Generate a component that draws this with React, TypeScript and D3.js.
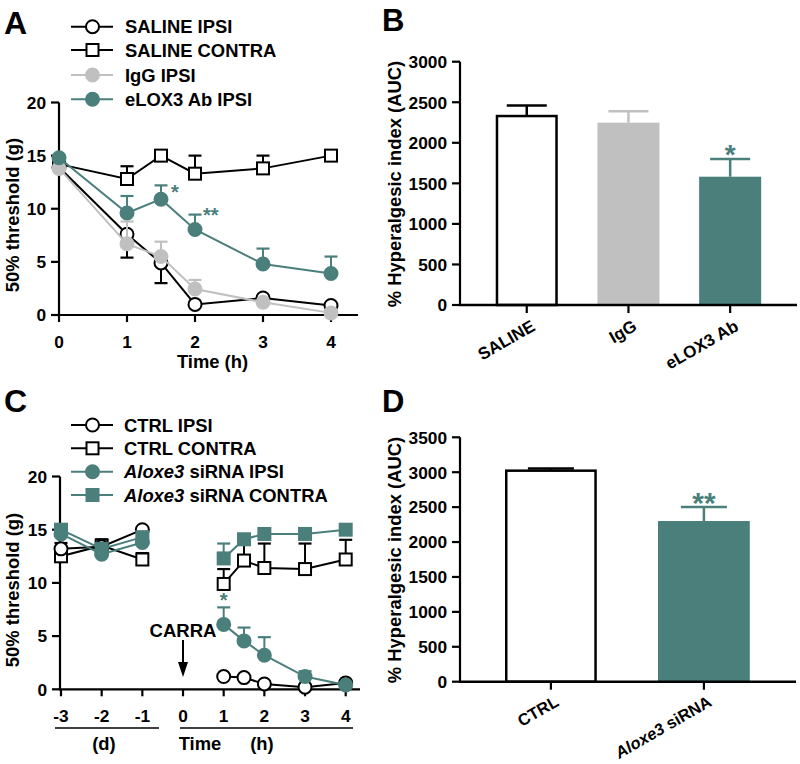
import React from 'react';
import * as d3 from 'd3';

const TEAL = '#4a7f7c';
const GRAY = '#c0c0c0';
const BLACK = '#000';
const FONT = 'Arial, "Liberation Sans", Helvetica, sans-serif';

// ---------- Panel A data ----------
const timesA = [0, 1, 1.5, 2, 3, 4];
const ticksA = [0, 1, 2, 3, 4];
const salineIpsi = [13.9, 7.6, 4.9, 1.0, 1.6, 0.9];
const salineIpsiErr = [0, 2.2, 1.9, 0, 0, 0]; // drawn downward
const salineContra = [14.2, 12.8, 15.0, 13.3, 13.8, 15.0];
const salineContraErr = [0, 1.2, 0, 1.7, 1.2, 0];
const iggIpsi = [13.8, 6.7, 5.5, 2.45, 1.2, 0.2];
const iggIpsiErr = [0, 2.1, 1.4, 0.85, 0, 0];
const elox3Ipsi = [14.8, 9.6, 10.9, 8.05, 4.8, 3.9];
const elox3IpsiErr = [0, 1.6, 1.3, 1.4, 1.45, 1.6];
const yTicksLine = [0, 5, 10, 15, 20];

// ---------- Panel B data ----------
const catsB = ['SALINE', 'IgG', 'eLOX3 Ab'];
const valsB = [2330, 2248, 1582];
const errsB = [130, 142, 218];
const yTicksB = [0, 500, 1000, 1500, 2000, 2500, 3000];

// ---------- Panel C data ----------
const timesC = [-3, -2, -1, 1, 1.5, 2, 3, 4];
const ticksC = [-3, -2, -1, 0, 1, 2, 3, 4];
const ctrlIpsi = [13.2, 13.4, 15.0, 1.2, 1.1, 0.5, 0.2, 0.6];
const ctrlIpsiErr = [0, 0, 0, 0, 0, 0, 0, 0];
const ctrlContra = [12.5, 13.5, 12.2, 9.9, 12.1, 11.4, 11.3, 12.2];
const ctrlContraErr = [1.25, 0.6, 0.6, 1.4, 2.0, 2.3, 2.4, 1.85];
const aloxIpsi = [14.6, 12.7, 13.8, 6.1, 4.55, 3.2, 1.2, 0.4];
const aloxIpsiErr = [0, 0, 0, 1.6, 1.25, 1.7, 0.5, 0];
const aloxContra = [15.0, 13.2, 14.3, 12.3, 14.1, 14.6, 14.6, 15.0];
const aloxContraErr = [0, 0, 0, 1.4, 0, 0, 0, 0];

// ---------- Panel D data ----------
const catsD = ['CTRL', 'Aloxe3 siRNA'];
const valsD = [3022, 2301];
const errsD = [30, 200];
const yTicksD = [0, 500, 1000, 1500, 2000, 2500, 3000, 3500];

type Marker = 'circle' | 'square';

function MarkerShape({ x, y, type, fill, stroke }: { x: number; y: number; type: Marker; fill: string; stroke: string }) {
  if (type === 'circle') return <circle cx={x} cy={y} r={6.5} fill={fill} stroke={stroke} strokeWidth={2} />;
  return <rect x={x - 6} y={y - 6} width={12} height={12} fill={fill} stroke={stroke} strokeWidth={2} />;
}

type Series = {
  vals: number[];
  errs: number[];
  dir: 1 | -1;
  color: string;
  fill: string;
  marker: Marker;
};

function SeriesG({ s, times, x, y, split }: { s: Series; times: number[]; x: d3.ScaleLinear<number, number>; y: d3.ScaleLinear<number, number>; split?: boolean }) {
  const pts = times.map((t, i) => [t, s.vals[i]] as [number, number]);
  const line = d3.line<[number, number]>().x(d => x(d[0])).y(d => y(d[1]));
  const segs = split ? [pts.filter(p => p[0] < 0), pts.filter(p => p[0] > 0)] : [pts];
  return (
    <g>
      {segs.map((seg, k) => (
        <path key={k} d={line(seg) || ''} fill="none" stroke={s.color} strokeWidth={2} />
      ))}
      {pts.map((p, i) => {
        const e = s.errs[i];
        if (!e) return null;
        const y0 = y(p[1]);
        const y1 = y(p[1] + s.dir * e);
        const cx = x(p[0]);
        return (
          <g key={'e' + i}>
            <line x1={cx} x2={cx} y1={y0} y2={y1} stroke={s.color} strokeWidth={2} />
            <line x1={cx - 6.5} x2={cx + 6.5} y1={y1} y2={y1} stroke={s.color} strokeWidth={2.2} />
          </g>
        );
      })}
      {pts.map((p, i) => (
        <MarkerShape key={'m' + i} x={x(p[0])} y={y(p[1])} type={s.marker} fill={s.fill} stroke={s.color} />
      ))}
    </g>
  );
}

function Legend({ items, x0, ys, textX }: { items: { label: React.ReactNode; color: string; fill: string; marker: Marker }[]; x0: number; ys: number[]; textX: number }) {
  return (
    <g>
      {items.map((it, i) => (
        <g key={i}>
          <line x1={x0} x2={x0 + 42} y1={ys[i]} y2={ys[i]} stroke={it.color} strokeWidth={2} />
          <MarkerShape x={x0 + 21.5} y={ys[i]} type={it.marker} fill={it.fill} stroke={it.color} />
          <text x={textX} y={ys[i] + 6.5} fontSize={18.4} fontWeight="bold" fontFamily={FONT}>{it.label}</text>
        </g>
      ))}
    </g>
  );
}

function YAxis({ y, ticks, x0, fmt }: { y: d3.ScaleLinear<number, number>; ticks: number[]; x0: number; fmt?: (v: number) => string }) {
  const [d0, d1] = y.domain();
  return (
    <g>
      <line x1={x0} x2={x0} y1={y(d1)} y2={y(d0) + 1} stroke={BLACK} strokeWidth={2.2} />
      {ticks.map(t => (
        <g key={t}>
          <line x1={x0 - 8} x2={x0} y1={y(t)} y2={y(t)} stroke={BLACK} strokeWidth={2.2} />
          <text x={x0 - 13} y={y(t) + 6.3} textAnchor="end" fontSize={17.3} fontWeight="bold" fontFamily={FONT}>
            {fmt ? fmt(t) : String(t)}
          </text>
        </g>
      ))}
    </g>
  );
}

export default function App() {
  // Panel A scales
  const xA = d3.scaleLinear().domain([0, 4]).range([59, 331]);
  const yA = d3.scaleLinear().domain([0, 20]).range([315, 102.5]);
  // Panel C scales
  const xC = d3.scaleLinear().domain([-3, 4]).range([61, 345.7]);
  const yC = d3.scaleLinear().domain([0, 20]).range([689.3, 476.5]);
  // Panel B scales
  const xB = d3.scaleBand<string>().domain(catsB).range([475.9, 781]).paddingInner(0.39).paddingOuter(0.195);
  const yB = d3.scaleLinear().domain([0, 3000]).range([305, 61.7]);
  // Panel D scales
  const xD = d3.scaleBand<string>().domain(catsD).range([474.4, 780.4]).paddingInner(0.4).paddingOuter(0.2);
  const yD = d3.scaleLinear().domain([0, 3500]).range([681.7, 437.3]);

  const seriesA: Series[] = [
    { vals: salineContra, errs: salineContraErr, dir: 1, color: BLACK, fill: '#fff', marker: 'square' },
    { vals: salineIpsi, errs: salineIpsiErr, dir: -1, color: BLACK, fill: '#fff', marker: 'circle' },
    { vals: iggIpsi, errs: iggIpsiErr, dir: 1, color: GRAY, fill: GRAY, marker: 'circle' },
    { vals: elox3Ipsi, errs: elox3IpsiErr, dir: 1, color: TEAL, fill: TEAL, marker: 'circle' },
  ];
  const seriesC: Series[] = [
    { vals: ctrlContra, errs: ctrlContraErr, dir: 1, color: BLACK, fill: '#fff', marker: 'square' },
    { vals: ctrlIpsi, errs: ctrlIpsiErr, dir: 1, color: BLACK, fill: '#fff', marker: 'circle' },
    { vals: aloxContra, errs: aloxContraErr, dir: 1, color: TEAL, fill: TEAL, marker: 'square' },
    { vals: aloxIpsi, errs: aloxIpsiErr, dir: 1, color: TEAL, fill: TEAL, marker: 'circle' },
  ];

  const barFillsB = ['#fff', GRAY, TEAL];
  const barStrokesB = [BLACK, 'none', 'none'];
  const errColorsB = [BLACK, GRAY, TEAL];
  const barFillsD = ['#fff', TEAL];
  const barStrokesD = [BLACK, 'none'];
  const errColorsD = [BLACK, TEAL];

  const titleStyle = { fontSize: 18.4, fontWeight: 'bold' as const, fontFamily: FONT };

  return (
    <svg width={800} height={764} style={{ position: 'absolute', left: 0, top: 0, background: '#fff' }} fontFamily={FONT}>
      <rect x={0} y={0} width={800} height={764} fill="#fff" />
      {/* ================= Panel A ================= */}
      <text x={4} y={34} fontSize={32} fontWeight="bold">A</text>
      <Legend
        x0={71}
        textX={125}
        ys={[26.7, 50, 75, 99.3]}
        items={[
          { label: 'SALINE IPSI', color: BLACK, fill: '#fff', marker: 'circle' },
          { label: 'SALINE CONTRA', color: BLACK, fill: '#fff', marker: 'square' },
          { label: 'IgG IPSI', color: GRAY, fill: GRAY, marker: 'circle' },
          { label: 'eLOX3 Ab IPSI', color: TEAL, fill: TEAL, marker: 'circle' },
        ]}
      />
      <YAxis y={yA} ticks={yTicksLine} x0={59} />
      <line x1={58} x2={358} y1={yA(0)} y2={yA(0)} stroke={BLACK} strokeWidth={2.2} />
      {ticksA.map(t => (
        <g key={t}>
          <line x1={xA(t)} x2={xA(t)} y1={yA(0)} y2={yA(0) + 7} stroke={BLACK} strokeWidth={2.2} />
          <text x={xA(t)} y={348} textAnchor="middle" fontSize={17.3} fontWeight="bold">{t}</text>
        </g>
      ))}
      <text x={212.5} y={368} textAnchor="middle" {...titleStyle}>Time (h)</text>
      <text transform={`translate(19,215) rotate(-90)`} textAnchor="middle" {...titleStyle}>50% threshold (g)</text>
      {seriesA.map((s, i) => (
        <SeriesG key={i} s={s} times={timesA} x={xA} y={yA} />
      ))}
      <text x={171} y={199} fontSize={20} fontWeight="bold" fill={TEAL}>*</text>
      <text x={203} y={222} fontSize={20} fontWeight="bold" fill={TEAL}>**</text>

      {/* ================= Panel B ================= */}
      <text x={382} y={31} fontSize={31} fontWeight="bold">B</text>
      {catsB.map((c, i) => {
        const x0 = xB(c)!;
        const bw = xB.bandwidth();
        const cx = x0 + bw / 2;
        return (
          <g key={c}>
            <line x1={cx} x2={cx} y1={yB(valsB[i])} y2={yB(valsB[i] + errsB[i])} stroke={errColorsB[i]} strokeWidth={2.5} />
            <line x1={cx - 20} x2={cx + 20} y1={yB(valsB[i] + errsB[i])} y2={yB(valsB[i] + errsB[i])} stroke={errColorsB[i]} strokeWidth={2.5} />
            <rect
              x={x0 + (barStrokesB[i] !== 'none' ? 1.25 : 0)}
              y={yB(valsB[i])}
              width={bw - (barStrokesB[i] !== 'none' ? 2.5 : 0)}
              height={yB(0) - yB(valsB[i])}
              fill={barFillsB[i]}
              stroke={barStrokesB[i]}
              strokeWidth={2.5}
            />
          </g>
        );
      })}
      <YAxis y={yB} ticks={yTicksB} x0={460} />
      <line x1={459} x2={797} y1={yB(0)} y2={yB(0)} stroke={BLACK} strokeWidth={2.5} />
      {catsB.map(c => {
        const cx = xB(c)! + xB.bandwidth() / 2;
        return (
          <g key={c}>
            <line x1={cx} x2={cx} y1={yB(0)} y2={yB(0) + 8} stroke={BLACK} strokeWidth={2.2} />
            <text transform={`translate(${cx + 9.5},${329.5}) rotate(-30)`} textAnchor="end" fontSize={17} fontWeight="bold">{c}</text>
          </g>
        );
      })}
      <text transform={`translate(401,184) rotate(-90)`} textAnchor="middle" {...titleStyle}>% Hyperalgesic index (AUC)</text>
      <text x={xB('eLOX3 Ab')! + xB.bandwidth() / 2} y={164} textAnchor="middle" fontSize={28} fontWeight="bold" fill={TEAL}>*</text>

      {/* ================= Panel C ================= */}
      <text x={4} y={412} fontSize={32} fontWeight="bold">C</text>
      <Legend
        x0={71}
        textX={124}
        ys={[425, 448.3, 471.7, 495]}
        items={[
          { label: 'CTRL IPSI', color: BLACK, fill: '#fff', marker: 'circle' },
          { label: 'CTRL CONTRA', color: BLACK, fill: '#fff', marker: 'square' },
          { label: <><tspan fontStyle="italic">Aloxe3</tspan><tspan> siRNA IPSI</tspan></>, color: TEAL, fill: TEAL, marker: 'circle' },
          { label: <><tspan fontStyle="italic">Aloxe3</tspan><tspan> siRNA CONTRA</tspan></>, color: TEAL, fill: TEAL, marker: 'square' },
        ]}
      />
      <YAxis y={yC} ticks={yTicksLine} x0={60} />
      <line x1={59} x2={360} y1={yC(0)} y2={yC(0)} stroke={BLACK} strokeWidth={2.2} />
      {ticksC.map(t => (
        <g key={t}>
          <line x1={xC(t)} x2={xC(t)} y1={yC(0)} y2={yC(0) + 7} stroke={BLACK} strokeWidth={2.2} />
          <text x={xC(t)} y={722} textAnchor="middle" fontSize={17.3} fontWeight="bold">{String(t)}</text>
        </g>
      ))}
      <line x1={55} x2={159} y1={728} y2={728} stroke={BLACK} strokeWidth={1.6} />
      <line x1={180} x2={353} y1={728} y2={728} stroke={BLACK} strokeWidth={1.6} />
      <text x={104} y={750} textAnchor="middle" {...titleStyle}>(d)</text>
      <text x={200} y={750} textAnchor="middle" {...titleStyle}>Time</text>
      <text x={262} y={750} textAnchor="middle" {...titleStyle}>(h)</text>
      <text transform={`translate(19,590) rotate(-90)`} textAnchor="middle" {...titleStyle}>50% threshold (g)</text>
      {seriesC.map((s, i) => (
        <SeriesG key={i} s={s} times={timesC} x={xC} y={yC} split />
      ))}
      <text x={xC(1)} y={607} textAnchor="middle" fontSize={20} fontWeight="bold" fill={TEAL}>*</text>
      <text x={xC(0)} y={637} textAnchor="middle" fontSize={18.5} fontWeight="bold">CARRA</text>
      <line x1={xC(0)} x2={xC(0)} y1={640} y2={665} stroke={BLACK} strokeWidth={2} />
      <path d={`M${xC(0) - 5},${662} L${xC(0) + 5},${662} L${xC(0)},${677} Z`} fill={BLACK} />

      {/* ================= Panel D ================= */}
      <text x={382} y={412} fontSize={31} fontWeight="bold">D</text>
      {catsD.map((c, i) => {
        const x0 = xD(c)!;
        const bw = xD.bandwidth();
        const cx = x0 + bw / 2;
        return (
          <g key={c}>
            <line x1={cx} x2={cx} y1={yD(valsD[i])} y2={yD(valsD[i] + errsD[i])} stroke={errColorsD[i]} strokeWidth={2.5} />
            <line x1={cx - 23} x2={cx + 23} y1={yD(valsD[i] + errsD[i])} y2={yD(valsD[i] + errsD[i])} stroke={errColorsD[i]} strokeWidth={2.5} />
            <rect
              x={x0 + (barStrokesD[i] !== 'none' ? 1.25 : 0)}
              y={yD(valsD[i])}
              width={bw - (barStrokesD[i] !== 'none' ? 2.5 : 0)}
              height={yD(0) - yD(valsD[i])}
              fill={barFillsD[i]}
              stroke={barStrokesD[i]}
              strokeWidth={2.5}
            />
          </g>
        );
      })}
      <YAxis y={yD} ticks={yTicksD} x0={460} />
      <line x1={459} x2={796} y1={yD(0)} y2={yD(0)} stroke={BLACK} strokeWidth={2.5} />
      {catsD.map(c => {
        const cx = xD(c)! + xD.bandwidth() / 2;
        const parts = c.split(' ');
        return (
          <g key={c}>
            <line x1={cx} x2={cx} y1={yD(0)} y2={yD(0) + 8} stroke={BLACK} strokeWidth={2.2} />
            <text transform={`translate(${cx + 9},${705}) rotate(-30)`} textAnchor="end" fontSize={16.5} fontWeight="bold">
              {parts.length > 1 ? (
                <>
                  <tspan fontStyle="italic">{parts[0]}</tspan>
                  <tspan>{' ' + parts.slice(1).join(' ')}</tspan>
                </>
              ) : c}
            </text>
          </g>
        );
      })}
      <text transform={`translate(401,560) rotate(-90)`} textAnchor="middle" {...titleStyle}>% Hyperalgesic index (AUC)</text>
      <text x={xD('Aloxe3 siRNA')! + xD.bandwidth() / 2} y={513} textAnchor="middle" fontSize={30} fontWeight="bold" fill={TEAL}>**</text>
    </svg>
  );
}
